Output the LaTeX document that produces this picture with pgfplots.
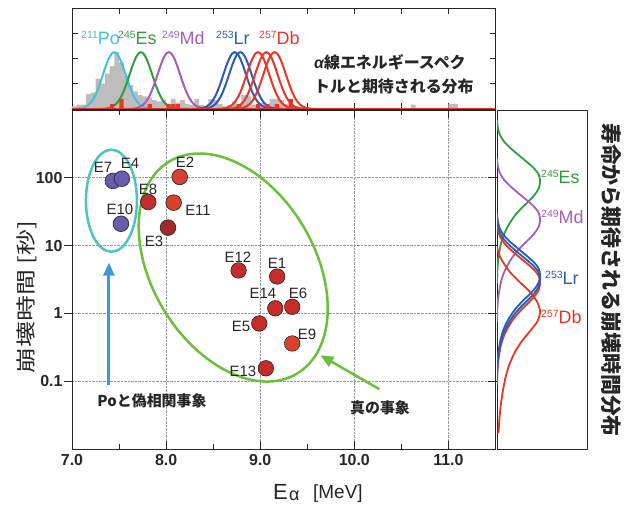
\documentclass[border=0pt]{standalone}
\usepackage{fontspec}
\usepackage{graphicx}
\usepackage{pgfplots}
\usepackage{pgfplotstable}
\pgfplotsset{compat=1.18}
\usetikzlibrary{arrows.meta}
\setmainfont{Liberation Sans}
\newfontfamily\jp{Noto Sans CJK JP}
\newcommand{\fs}[1]{\fontsize{#1}{#1}\selectfont}
\newcommand{\iso}[2]{\raisebox{6.5bp}{\fs{10.5}#1}#2}

\definecolor{cPo}{HTML}{3EC3DA}
\definecolor{cEs}{HTML}{2E9E3E}
\definecolor{cMd}{HTML}{A55DB5}
\definecolor{cLr}{HTML}{2B5DB0}
\definecolor{cDb}{HTML}{EB3428}
\definecolor{cEll}{HTML}{6CBF3C}
\definecolor{cCyan}{HTML}{4DC3C3}
\definecolor{cArrow}{HTML}{3A9ADA}
\definecolor{cPur}{HTML}{6B5BB0}
\definecolor{cRed}{HTML}{C62D2A}
\definecolor{cRedD}{HTML}{A4292A}
\definecolor{cRedL}{HTML}{D9412F}
\definecolor{gHist}{HTML}{BDBDBD}

% gaussian line shape of the alpha spectrum (offset in MeV, height)
\pgfplotstableread{
d g
-0.45 0.002
-0.40 0.009
-0.36 0.025
-0.33 0.051
-0.30 0.099
-0.27 0.179
-0.24 0.304
-0.21 0.487
-0.18 0.731
-0.15 1.030
-0.12 1.365
-0.09 1.698
-0.06 1.986
-0.03 2.180
0.00 2.250
0.03 2.180
0.06 1.986
0.09 1.698
0.12 1.365
0.15 1.030
0.18 0.731
0.21 0.487
0.24 0.304
0.27 0.179
0.30 0.099
0.33 0.051
0.36 0.025
0.40 0.009
0.45 0.002
}\gauss

% gray alpha spectrum histogram (bin centre, height)
\pgfplotstableread{
x y
7.025 0.10
7.075 0.17
7.125 0.17
7.175 0.60
7.225 0.65
7.275 1.20
7.325 1.00
7.375 1.40
7.425 1.70
7.475 2.25
7.525 1.85
7.575 1.30
7.625 0.95
7.675 0.70
7.725 0.55
7.775 0.50
7.825 0.45
7.875 0.35
7.925 0.30
7.975 0.35
8.025 0.20
8.075 0.40
8.125 0.25
8.175 0.35
8.225 0.20
8.275 0.15
8.325 0.40
8.375 0.15
8.425 0.10
8.475 0.40
8.525 0.35
8.575 0.20
8.625 0.10
8.675 0.15
8.725 0.30
8.775 0.20
8.825 0.55
8.875 0.50
8.925 0.15
8.975 0.20
9.025 0.25
9.075 0.20
9.125 0.40
9.175 0.40
9.225 0.35
9.275 0.20
9.325 0.15
9.375 0.10
9.425 0.10
10.625 0.17
11.025 0.20
11.075 0.20
}\grayhist

% red histogram of the events
\pgfplotstableread{
x y
7.425 0.19
7.525 0.40
7.825 0.19
8.025 0.19
8.075 0.19
8.125 0.19
8.775 0.19
8.975 0.19
9.075 0.19
9.175 0.19
9.325 0.40
}\redhist

% decay time distribution shapes (offset in decades, amplitude)
\pgfplotstableread{
du a
0.90 0
0.80 0.02
0.70 0.06
0.60 0.15
0.50 0.30
0.40 0.48
0.30 0.67
0.20 0.85
0.10 0.97
0.00 1.00
-0.10 0.97
-0.20 0.87
-0.30 0.72
-0.40 0.56
-0.50 0.42
-0.60 0.31
-0.70 0.22
-0.80 0.15
-0.90 0.10
-1.00 0.065
-1.10 0.04
-1.20 0.02
-1.35 0.005
-1.50 0
}\rshape

\pgfplotstableread{
du a
0.95 0
0.80 0.07
0.60 0.27
0.45 0.49
0.30 0.74
0.15 0.92
0.00 1.00
-0.15 0.94
-0.30 0.76
-0.45 0.57
-0.60 0.42
-0.80 0.28
-1.00 0.19
-1.20 0.13
-1.40 0.085
-1.60 0.055
-1.80 0.035
}\rlong

\begin{document}
\begin{tikzpicture}
\useasboundingbox (0,0) rectangle (629bp,506bp);

% ---------------- main axis ----------------
\begin{axis}[
  at={(72bp,57bp)}, anchor=south west,
  width=423.5bp, height=339bp, scale only axis,
  xmin=7, xmax=11.5, ymode=log, ymin=0.01, ymax=1000,
  xtick={7,8,9,10,11}, xticklabels={7.0,8.0,9.0,10.0,11.0},
  minor xtick={7.5,8.5,9.5,10.5},
  ytick={0.1,1,10,100}, yticklabels={0.1,1,10,100},
  yminorticks=false, ytick pos=left, xtick pos=both,
  tick align=inside, major tick length=8bp, minor tick length=5bp,
  y tick style={xshift=-8bp},
  grid=major, grid style={densely dotted, gray!80, line width=0.6bp},
  axis line style={line width=0.9bp, black!85},
  tick style={line width=0.9bp, black!85},
  ticklabel style={font=\bfseries\fs{16}, text=black!85},
  yticklabel style={xshift=-6bp},
  xticklabel style={yshift=-2bp},
  clip=false,
]
\draw[cCyan, line width=2.5bp] (axis cs:7.419,45.9) ellipse [x radius=25.5bp, y radius=51bp];
\draw[cEll, line width=2.5bp] (axis cs:8.713,4.75) ellipse [x radius=123.8bp, y radius=81.3bp, rotate=-58.9];
\draw[cArrow, line width=2.8bp, -{Triangle[length=13bp,width=11bp]}] (axis cs:7.392,0.0873) -- (axis cs:7.392,5.62);
\draw[cEll, line width=2.5bp, -{Triangle[length=13bp,width=11bp]}] (axis cs:10.266,0.0762) -- (axis cs:9.640,0.241);

\addplot[only marks, mark=*, mark size=7.8bp, mark options={fill=cPur, draw=black!80, line width=0.8bp}]
  coordinates {(7.435,90) (7.53,97) (7.52,21)};
\addplot[only marks, mark=*, mark size=7.8bp, mark options={fill=cRed, draw=black!80, line width=0.8bp}]
  coordinates {(7.81,44)};
\addplot[only marks, mark=*, mark size=7.8bp, mark options={fill=cRedL, draw=black!80, line width=0.8bp}]
  coordinates {(8.145,103) (8.08,43)};
\addplot[only marks, mark=*, mark size=7.8bp, mark options={fill=cRedD, draw=black!80, line width=0.8bp}]
  coordinates {(8.02,18.4)};
\addplot[only marks, mark=*, mark size=7.8bp, mark options={fill=cRed, draw=none}]
  coordinates {(8.77,4.3) (9.18,3.5) (9.16,1.19) (9.34,1.25) (8.99,0.71) (9.06,0.155)};
\addplot[only marks, mark=*, mark size=7.8bp, mark options={fill=cRedL, draw=none}]
  coordinates {(9.34,0.36)};
\end{axis}

% ---------------- top panel ----------------
\begin{axis}[
  at={(72bp,397bp)}, anchor=south west,
  width=423.5bp, height=101bp, scale only axis,
  xmin=7, xmax=11.5, ymin=0, ymax=4,
  xtick={7.5,8,...,11}, xticklabels={},
  ytick={1,2,3}, yticklabels={},
  tick align=inside, major tick length=6bp,
  axis line style={line width=0.9bp, black!85},
  tick style={line width=0.8bp, black!85},
]
\addplot[ybar, bar width=0.05, bar shift=0pt, fill=gHist, draw=none] table[x=x,y=y] \grayhist;
\addplot[cPo, line width=2bp, smooth] table[x expr=\thisrow{d}+7.449, y=g] \gauss;
\addplot[cEs, line width=2bp, smooth] table[x expr=\thisrow{d}+7.732, y=g] \gauss;
\addplot[cMd, line width=2bp, smooth] table[x expr=\thisrow{d}+8.029, y=g] \gauss;
\addplot[cLr, line width=2bp, smooth] table[x expr=\thisrow{d}+8.729, y=g] \gauss;
\addplot[cLr, line width=2bp, smooth] table[x expr=\thisrow{d}+8.789, y=g] \gauss;
\addplot[cDb, line width=2bp, smooth] table[x expr=\thisrow{d}+8.976, y=g] \gauss;
\addplot[cDb, line width=2bp, smooth] table[x expr=\thisrow{d}+9.065, y=g] \gauss;
\addplot[cDb, line width=2bp, smooth] table[x expr=\thisrow{d}+9.153, y=g] \gauss;
\addplot[ybar, bar width=0.045, bar shift=0pt, fill=cDb, draw=none] table[x=x,y=y] \redhist;
\addplot[cDb, line width=1.3bp] coordinates {(7,0) (11.5,0)};
\end{axis}

% ---------------- right panel ----------------
\begin{axis}[
  at={(497bp,57bp)}, anchor=south west,
  width=90bp, height=339bp, scale only axis,
  xmin=0, xmax=2.09, ymode=log, ymin=0.01, ymax=1000,
  xtick=\empty, ytick={0.1,1,10,100}, yticklabels={},
  yminorticks=false, ytick pos=left, tick align=outside, major tick length=9bp,
  axis line style={line width=0.8bp, black!85},
  tick style={line width=0.9bp, black!85},
]
\addplot[cEs, line width=1.8bp, smooth] table[x=a, y expr={10^(\thisrow{du}+1.946)}] \rshape;
\addplot[cMd, line width=1.8bp, smooth] table[x=a, y expr={10^(\thisrow{du}+1.382)}] \rshape;
\addplot[cDb, line width=1.8bp, smooth] table[x=a, y expr={10^(\thisrow{du}+0.45)}] \rshape;
\addplot[cLr, line width=1.8bp, smooth] table[x=a, y expr={10^(\thisrow{du}+0.56)}] \rshape;
\addplot[cLr, line width=1.8bp, smooth] table[x=a, y expr={10^(\thisrow{du}+0.50)}] \rshape;
\addplot[cDb, line width=1.8bp, smooth] table[x=a, y expr={10^(\thisrow{du}+0.034)}] \rlong;
\end{axis}

% ---------------- texts (pixel coordinates, y downward) ----------------
\begin{scope}[shift={(0,506bp)}, x=1bp, y=-1bp]
\begin{scope}[every node/.style={inner sep=0pt, font=\fs{15}, text=black!85}]
\node at (103,167) {E7};
\node at (130,163) {E4};
\node at (185,162) {E2};
\node at (148,189) {E8};
\node at (198,210) {E11};
\node at (120,209) {E10};
\node at (154,241) {E3};
\node at (238,257) {E12};
\node at (277,263) {E1};
\node at (263,293) {E14};
\node at (298,293) {E6};
\node at (241,326) {E5};
\node at (307,334) {E9};
\node at (243,371) {E13};
\end{scope}

\begin{scope}[every node/.style={inner sep=0pt, anchor=base west, font=\fs{18}}]
\node[text=cPo] at (81,45) {\iso{211}{Po}};
\node[text=cEs] at (118,45) {\iso{245}{Es}};
\node[text=cMd] at (162,45) {\iso{249}{Md}};
\node[text=cLr] at (216,45) {\iso{253}{Lr}};
\node[text=cDb] at (259,45) {\iso{257}{Db}};
\end{scope}

\begin{scope}[every node/.style={inner sep=0pt, anchor=west, font=\fs{18}}]
\node[text=cEs] at (541,177) {\iso{245}{Es}};
\node[text=cMd] at (541,217) {\iso{249}{Md}};
\node[text=cLr] at (545,278) {\iso{253}{Lr}};
\node[text=cDb] at (541,317) {\iso{257}{Db}};
\end{scope}

\node[inner sep=0pt, anchor=west, font=\jp\bfseries\fs{16}, text=black!85] at (314,62)
  {{\normalfont\bfseries\itshape α}線エネルギースペク};
\node[inner sep=0pt, anchor=west, font=\jp\bfseries\fs{16}, text=black!85] at (314,86)
  {トルと期待される分布};

\node[inner sep=0pt, rotate=-90, font=\jp\bfseries\fs{21}, text=black!85] at (611,280)
  {寿命から期待される崩壊時間分布};
\node[inner sep=0pt, rotate=90, font=\jp\fs{20}, text=black!85] at (27,297)
  {\scalebox{1.3}[1]{崩壊時間 [秒]}};

\node[inner sep=0pt, anchor=base west, font=\fs{22}, text=black!85] at (273,500) {E};
\node[inner sep=0pt, anchor=base west, font=\fs{18}, text=black!85] at (289,501) {α};
\node[inner sep=0pt, anchor=base west, font=\fs{19}, text=black!85] at (313,499) {[MeV]};

\node[inner sep=0pt, font=\jp\bfseries\fs{15}, text=black!85] at (152,401) {Poと偽相関事象};
\node[inner sep=0pt, font=\jp\bfseries\fs{15}, text=black!85] at (380,408) {真の事象};
\end{scope}
\end{tikzpicture}
\end{document}
